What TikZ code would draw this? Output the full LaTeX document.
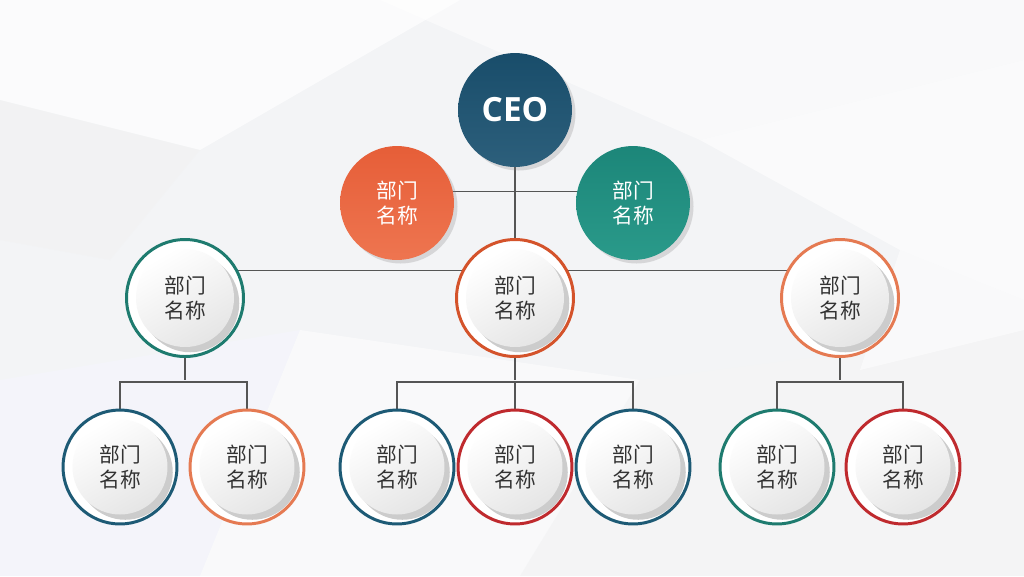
\documentclass[tikz,border=0pt]{standalone}
\usepackage{fontspec}
\setmainfont{Open Sans}
\newfontfamily\cjk{Noto Sans CJK SC}
\usetikzlibrary{shadows}
\definecolor{ceoC}{HTML}{1A5170}
\definecolor{orgC}{HTML}{E65E38}
\definecolor{orgL}{HTML}{EE7550}
\definecolor{teaC}{HTML}{1C8679}
\definecolor{teaL}{HTML}{2A9A8A}
\definecolor{rTeal}{HTML}{1E7B6F}
\definecolor{rRedOr}{HTML}{D4532B}
\definecolor{rOrange}{HTML}{E57A52}
\definecolor{rBlue}{HTML}{1D5A75}
\definecolor{rRed}{HTML}{BF2A2E}
\definecolor{txtC}{HTML}{333333}
\definecolor{lineC}{HTML}{555555}
\definecolor{bgC}{HTML}{F3F4F6}
\pgfdeclarelayer{back}
\pgfdeclarelayer{lines}
\pgfsetlayers{back,lines,main}
\tikzset{
  topnode/.style={circle, minimum size=2.28cm, inner sep=0pt, outer sep=0pt,
    shading=axis, shading angle=135, drop shadow={shadow xshift=2pt, shadow yshift=-2pt, opacity=.25},
    text=white, font=\cjk\fontsize{11.8}{14.7}\selectfont, align=center},
  ringtwo/.style={circle, minimum size=2.34cm, inner sep=0pt, outer sep=0pt, fill=white, line width=1.7pt, draw=#1},
  ringthree/.style={circle, minimum size=2.28cm, inner sep=0pt, outer sep=0pt, fill=white, line width=1.7pt, draw=#1},
  innertwo/.style={circle, minimum size=1.96cm, inner sep=0pt, outer sep=0pt,
    top color=white, bottom color=gray!20, shading angle=30,
    drop shadow={shadow xshift=3pt, shadow yshift=-3pt, opacity=.4},
    text=txtC, font=\cjk\fontsize{11.8}{14.7}\selectfont, align=center},
  innerthree/.style={innertwo, minimum size=1.9cm},
  conn/.style={draw=lineC, line width=0.6pt}
}
\begin{document}
\begin{tikzpicture}[x=0.02cm,y=-0.02cm]
\useasboundingbox (0,0) rectangle (1024,576);
\begin{pgfonlayer}{back}
\fill[bgC] (0,0) rectangle (1024,576);
\fill[white,opacity=.7] (0,0) -- (460,0) -- (200,150) -- (0,100) -- cycle;
\fill[white,opacity=.5] (380,0) -- (1024,0) -- (1024,60) -- (700,140) -- cycle;
\fill[gray!10,opacity=.5] (0,100) -- (200,150) -- (110,260) -- (0,240) -- cycle;
\fill[white,opacity=.6] (700,140) -- (1024,60) -- (1024,300) -- (900,250) -- cycle;
\fill[blue!4,opacity=.5] (0,380) -- (300,330) -- (200,576) -- (0,576) -- cycle;
\fill[white,opacity=.5] (300,330) -- (640,380) -- (520,576) -- (200,576) -- cycle;
\fill[gray!8,opacity=.5] (640,380) -- (1024,330) -- (1024,576) -- (520,576) -- cycle;
\fill[white,opacity=.5] (900,250) -- (1024,300) -- (1024,330) -- (860,370) -- cycle;
\end{pgfonlayer}

% top level
\node[topnode, top color=ceoC!95!black, bottom color=ceoC!92!white, font=\bfseries\fontsize{19}{22}\selectfont] (ceo) at (515,110) {CEO};
\node[topnode, top color=orgC, bottom color=orgL] (d1) at (397,203) {部门\\名称};
\node[topnode, top color=teaC, bottom color=teaL] (d2) at (633,203) {部门\\名称};

% level 2
\node[ringtwo=rTeal] (l2a) at (185,298) {};
\node[innertwo] (l2ai) at (185,298) {部门\\名称};
\node[ringtwo=rRedOr] (l2b) at (515,298) {};
\node[innertwo] (l2bi) at (515,298) {部门\\名称};
\node[ringtwo=rOrange] (l2c) at (840,298) {};
\node[innertwo] (l2ci) at (840,298) {部门\\名称};

% level 3
\foreach \n/\x/\c in {l3a/120/rBlue, l3b/247/rOrange, l3c/397/rBlue, l3d/515/rRed, l3e/633/rBlue, l3f/777/rTeal, l3g/903/rRed}{
  \node[ringthree=\c] (\n) at (\x,467) {};
  \node[innerthree] (\n i) at (\x,467) {部门\\名称};
}

\begin{pgfonlayer}{lines}
\draw[conn] (ceo.south) -- (l2b.north);
\draw[conn] (d1.12) -- (d2.168);
\draw[conn] (l2a.28) -- (l2c.152);
\draw[conn] (l2a.south) -- ++(0,23);
\draw[conn] (l3a.north) -- ++(0,-28) -| (l3b.north);
\draw[conn] (l2b.south) -- ++(0,23);
\draw[conn] (l3c.north) -- ++(0,-28) -| (l3e.north);
\draw[conn] (l3d.north) -- ++(0,-28);
\draw[conn] (l2c.south) -- ++(0,23);
\draw[conn] (l3f.north) -- ++(0,-28) -| (l3g.north);
\end{pgfonlayer}
\end{tikzpicture}
\end{document}
